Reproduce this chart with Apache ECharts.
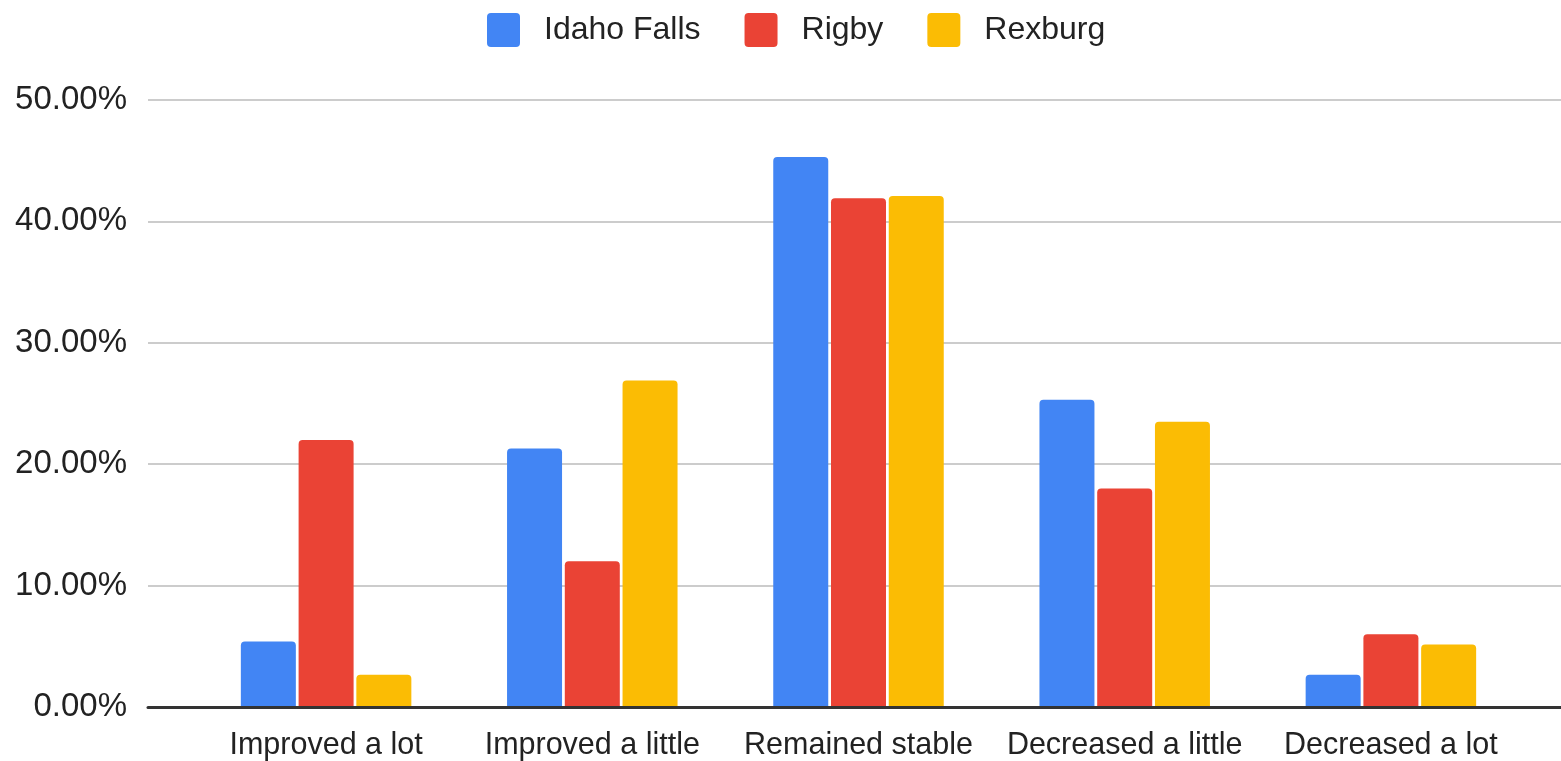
<!DOCTYPE html>
<html>
<head>
<meta charset="utf-8">
<script src="https://cdn.jsdelivr.net/npm/echarts@6/dist/echarts.min.js"></script>
<style>
  html, body { margin: 0; padding: 0; background: #fff; }
  #chart { width: 1561px; height: 761px; }
</style>
</head>
<body>
<div id="chart"></div>
<script>
// categories and series values (percent)
var categories = ['Improved a lot', 'Improved a little', 'Remained stable', 'Decreased a little', 'Decreased a lot'];
var idahoFalls = [5.4, 21.3, 45.3, 25.3, 2.65];
var rigby = [22.0, 12.0, 41.9, 18.0, 6.0];
var rexburg = [2.65, 26.9, 42.1, 23.5, 5.15];
var seriesNames = ['Idaho Falls', 'Rigby', 'Rexburg'];
var colors = ['#4285F4', '#EA4335', '#FBBC04'];

var FONT = '"Liberation Sans", Arial, sans-serif';
// small-radius square for the legend
var legendIcon = 'path://M4,0H29A4,4 0 0 1 33,4V30A4,4 0 0 1 29,34H4A4,4 0 0 1 0,30V4A4,4 0 0 1 4,0Z';

function barSeries(name, data) {
  return {
    name: name,
    type: 'bar',
    xAxisIndex: 1,
    yAxisIndex: 1,
    data: data,
    barWidth: 55,
    barGap: '5%',
    itemStyle: { borderRadius: [4, 4, 0, 0] }
  };
}

var chart = echarts.init(document.getElementById('chart'));
chart.setOption({
  animation: false,
  color: colors,
  legend: {
    top: 8,
    left: 482,
    icon: legendIcon,
    itemWidth: 33,
    itemHeight: 34,
    itemGap: 44,
    textStyle: { fontSize: 32, color: '#222', fontFamily: FONT, padding: [0, 0, 0, 19] },
    data: seriesNames
  },
  grid: [
    // background grid: gridlines + axis line across the full width
    { left: 148, right: 0, top: 100, bottom: 54 },
    // bars
    { left: 193, right: 37, top: 100, bottom: 54 }
  ],
  xAxis: [
    {
      gridIndex: 0, type: 'value', min: 0, max: 1, z: 5,
      axisLine: { show: true, lineStyle: { color: '#333', width: 3 } },
      axisTick: { show: false }, axisLabel: { show: false }, splitLine: { show: false }
    },
    {
      gridIndex: 1, type: 'category', data: categories,
      axisLine: { show: false }, axisTick: { show: false },
      axisLabel: { fontSize: 30.5, color: '#222', fontFamily: FONT, margin: 23, interval: 0 }
    }
  ],
  yAxis: [
    {
      gridIndex: 0, type: 'value', min: 0, max: 50, interval: 10,
      axisLine: { show: false }, axisTick: { show: false },
      axisLabel: {
        fontSize: 33, color: '#222', fontFamily: FONT, margin: 21,
        formatter: function (v) { return v.toFixed(2) + '%'; }
      },
      splitLine: { lineStyle: { color: '#ccc', width: 2 } }
    },
    {
      gridIndex: 1, type: 'value', min: 0, max: 50, interval: 10, show: false
    }
  ],
  series: [
    barSeries(seriesNames[0], idahoFalls),
    barSeries(seriesNames[1], rigby),
    barSeries(seriesNames[2], rexburg)
  ]
});
</script>
</body>
</html>
